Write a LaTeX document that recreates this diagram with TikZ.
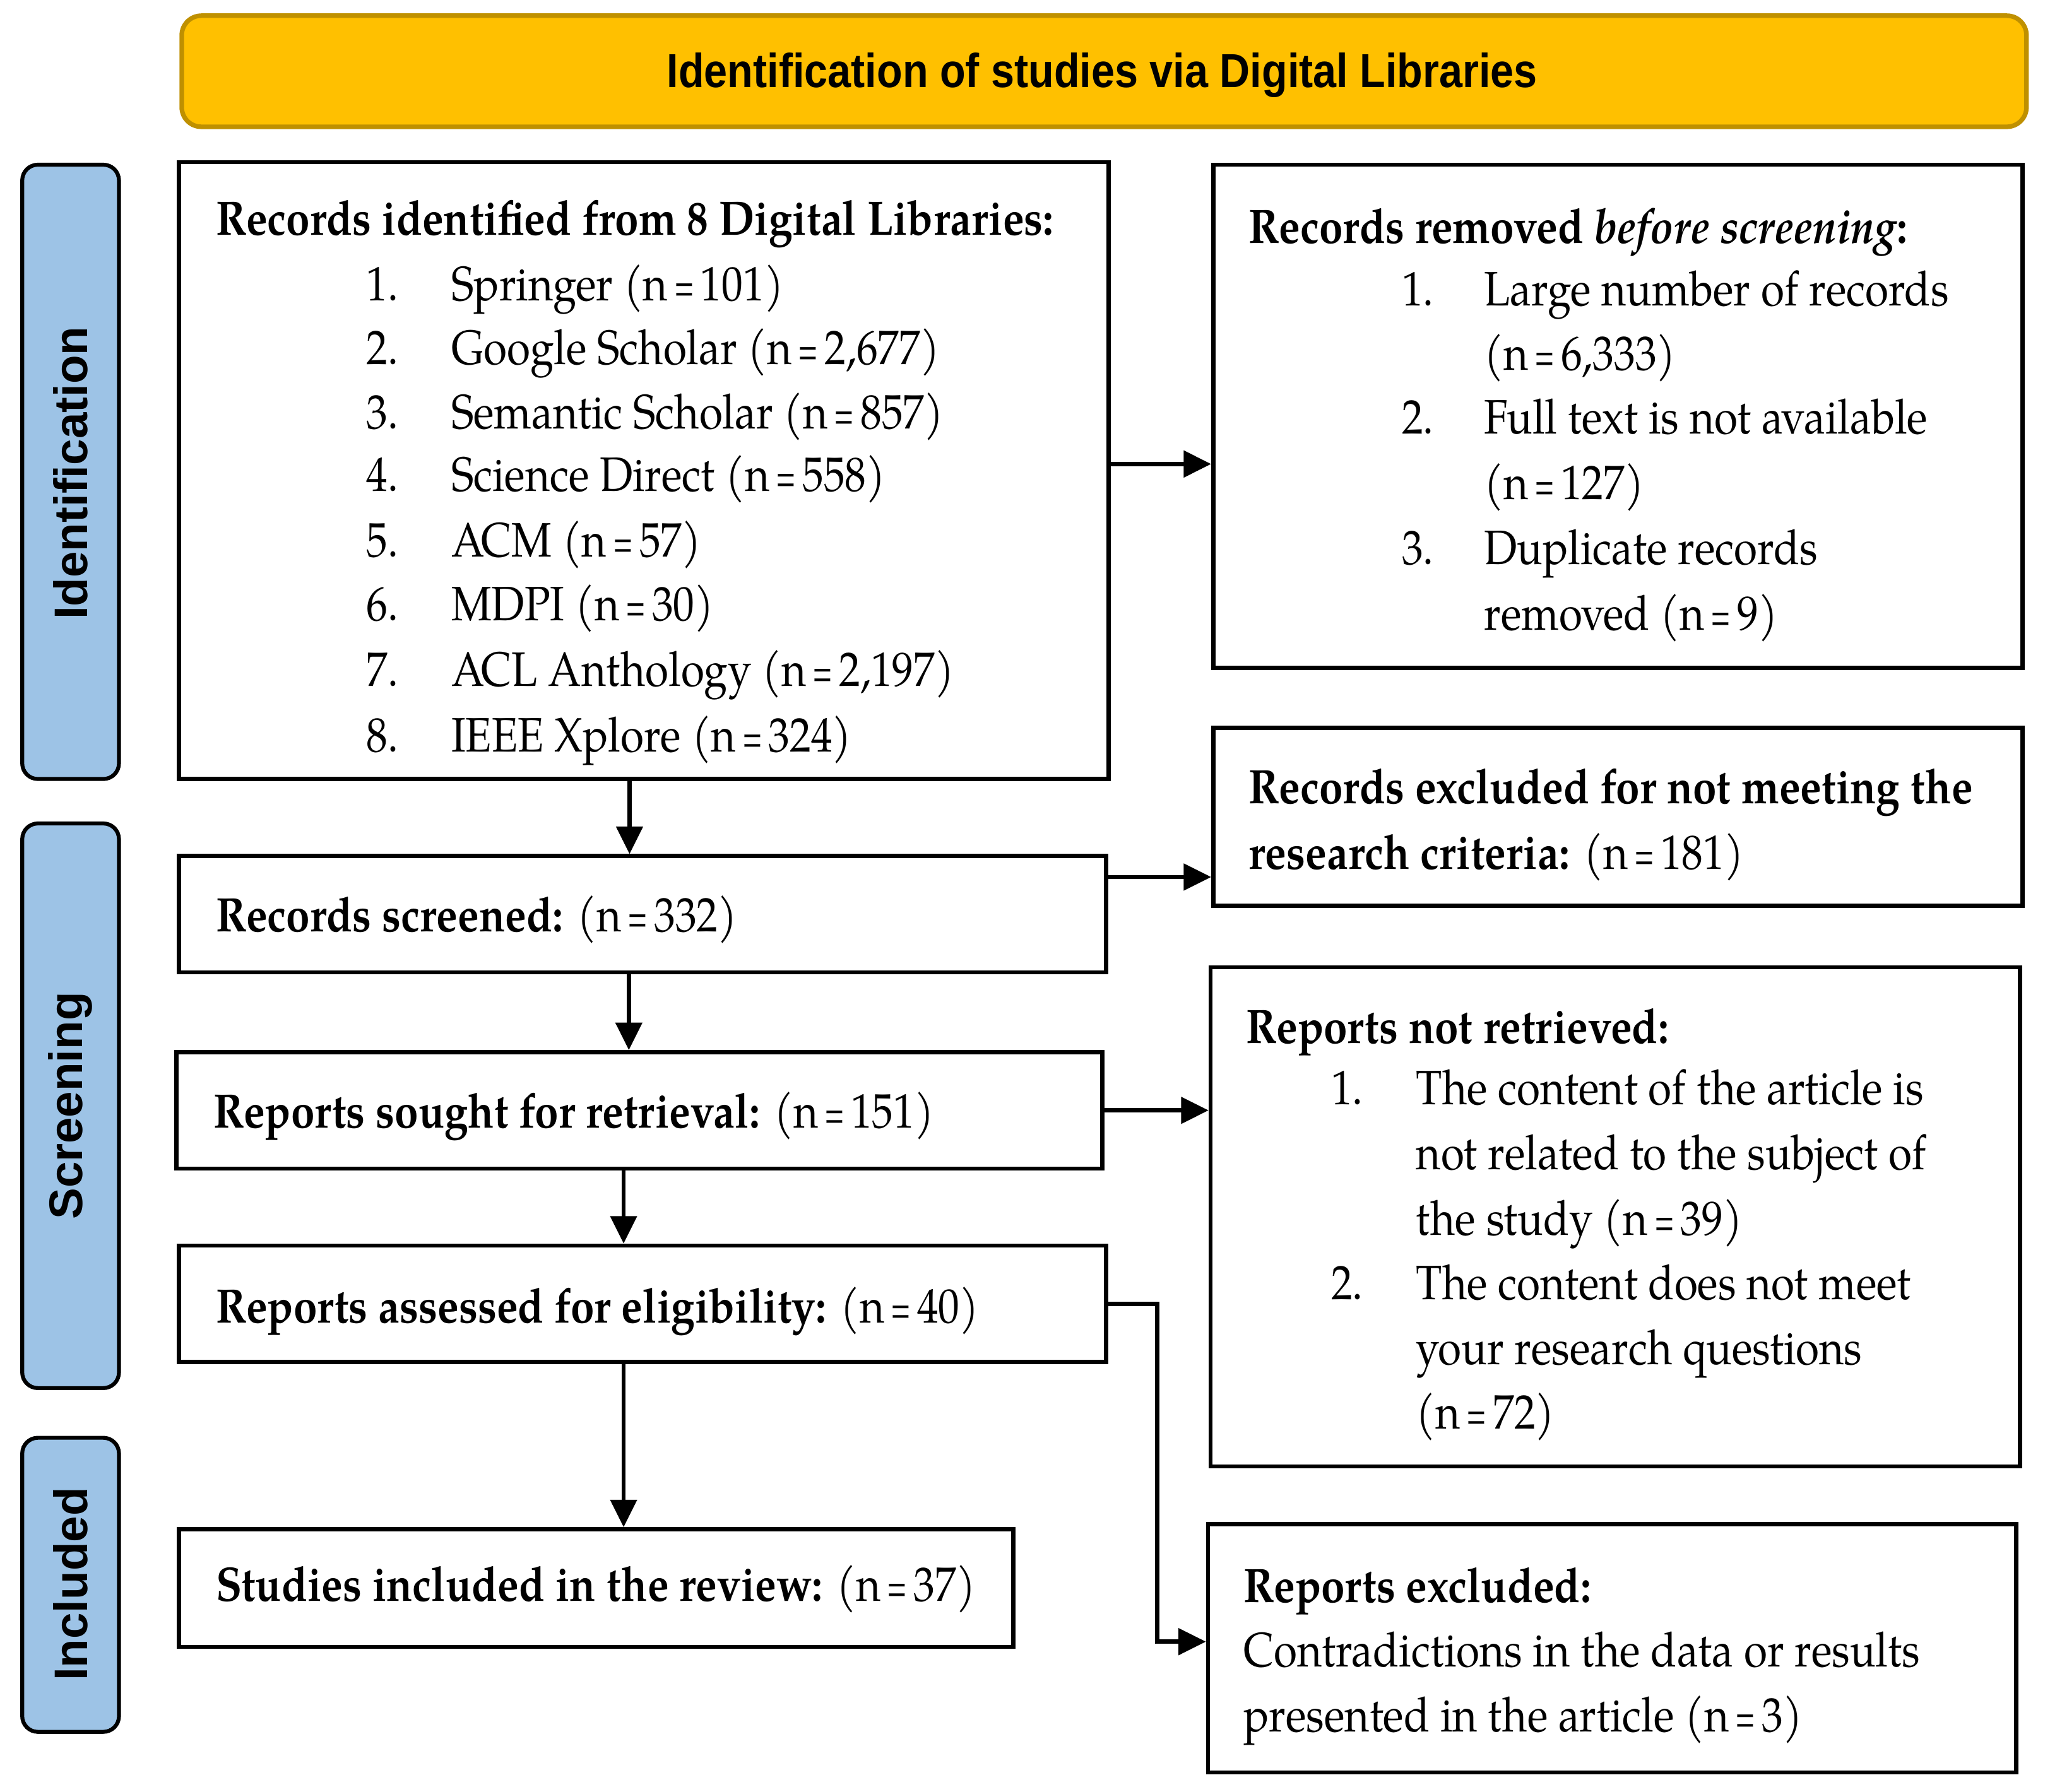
\documentclass[tikz,border=0pt]{standalone}
\usepackage{fontspec}
\usepackage{graphicx}
\setmainfont{texgyrepagella}[Extension=.otf, UprightFont=*-regular, BoldFont=*-bold, ItalicFont=*-italic, BoldItalicFont=*-bolditalic, FakeStretch=0.88]
\newfontfamily\sansfont{Liberation Sans}
\newfontfamily\bannerfont{Liberation Sans}[FakeStretch=0.88]
\usetikzlibrary{arrows.meta,calc}
\definecolor{bannerfill}{HTML}{FFC000}
\definecolor{bannerdraw}{HTML}{BF9000}
\definecolor{lblfill}{HTML}{9DC3E6}
\newcommand\nval[1]{(n\hspace{0.13em}\scalebox{0.62}[0.9]{=}\hspace{0.13em}#1)}
\tikzset{
  box/.style={draw=black, line width=3.2pt, fill=white, inner sep=0pt},
  lbl/.style={draw=black, line width=3pt, fill=lblfill, rounded corners=12pt},
  txt/.style={anchor=base west, inner sep=0pt, font=\fontsize{37}{44}\selectfont},
  lbltxt/.style={inner sep=0pt, rotate=90, font=\sansfont\bfseries\fontsize{36}{40}\selectfont},
  arr/.style={line width=3.2pt, -{Triangle[length=21pt,width=20pt]}},
}
\begin{document}
\begin{tikzpicture}[x=1pt,y=-1pt]
\useasboundingbox (0,0) rectangle (1568,1371);
% banner
\draw[fill=bannerfill, draw=bannerdraw, line width=3.5pt, rounded corners=15pt] (139,12) rectangle (1550,97);
\node[inner sep=0pt, anchor=base, font=\bannerfont\bfseries\fontsize{36.5}{40}\selectfont] (banner) at (843,67) {Identification of studies via Digital Libraries};
% side labels
\draw[lbl] (17,126) rectangle (91,596);
\node[lbltxt] (lid) at (54,362) {Identification};
\draw[lbl] (17,630) rectangle (91,1062);
\node[lbltxt] (lsc) at (54,846) {Screening};
\draw[lbl] (17,1100) rectangle (91,1325);
\node[lbltxt] (lin) at (54,1212) {Included};
% boxes
\node[box, minimum width=711pt, minimum height=472pt] (b1) at (492.5,360) {};
\node[box, minimum width=619pt, minimum height=385pt] (b2) at (1237.5,318.5) {};
\node[box, minimum width=709pt, minimum height=89pt] (b3) at (491.5,699.5) {};
\node[box, minimum width=619pt, minimum height=136pt] (b4) at (1237.5,625) {};
\node[box, minimum width=708pt, minimum height=89pt] (b5) at (489,849.5) {};
\node[box, minimum width=619pt, minimum height=382pt] (b6) at (1235.5,931) {};
\node[box, minimum width=709pt, minimum height=89pt] (b7) at (491.5,997.5) {};
\node[box, minimum width=638pt, minimum height=90pt] (b8) at (456,1215) {};
\node[box, minimum width=618pt, minimum height=190pt] (b9) at (1233,1261) {};
% box 1 text
\node[txt] (t1h) at (165,180) {\textbf{Records identified from 8 Digital Libraries:}};
\node[txt] (t1n1) at (280,230) {1.}; \node[txt] (t1i1) at (345,230) {Springer \nval{101}};
\node[txt] (t1n2) at (280,279) {2.}; \node[txt] (t1i2) at (345,279) {Google Scholar \nval{2,677}};
\node[txt] (t1n3) at (280,328) {3.}; \node[txt] (t1i3) at (345,328) {Semantic Scholar \nval{857}};
\node[txt] (t1n4) at (280,376) {4.}; \node[txt] (t1i4) at (345,376) {Science Direct \nval{558}};
\node[txt] (t1n5) at (280,426) {5.}; \node[txt] (t1i5) at (345,426) {ACM \nval{57}};
\node[txt] (t1n6) at (280,475) {6.}; \node[txt] (t1i6) at (345,475) {MDPI \nval{30}};
\node[txt] (t1n7) at (280,525) {7.}; \node[txt] (t1i7) at (345,525) {ACL Anthology \nval{2,197}};
\node[txt] (t1n8) at (280,575) {8.}; \node[txt] (t1i8) at (345,575) {IEEE Xplore \nval{324}};
% box 2 text
\node[txt] (t2h) at (955,186) {\textbf{Records removed \textit{before screening}:}};
\node[txt] (t2n1) at (1072,234) {1.}; \node[txt] (t2a) at (1135,234) {Large number of records};
\node[txt] (t2b) at (1135,283) {\nval{6,333}};
\node[txt] (t2n2) at (1072,332) {2.}; \node[txt] (t2c) at (1135,332) {Full text is not available};
\node[txt] (t2d) at (1135,382) {\nval{127}};
\node[txt] (t2n3) at (1072,432) {3.}; \node[txt] (t2e) at (1135,432) {Duplicate records};
\node[txt] (t2f) at (1135,482) {removed \nval{9}};
% box 3
\node[txt] (t3) at (165,713) {\textbf{Records screened:} \nval{332}};
% box 4
\node[txt] (t4a) at (955,615) {\textbf{Records excluded for not meeting the}};
\node[txt] (t4b) at (955,665) {\textbf{research criteria:} \nval{181}};
% box 5
\node[txt] (t5) at (163,863) {\textbf{Reports sought for retrieval:} \nval{151}};
% box 6
\node[txt] (t6h) at (953,798) {\textbf{Reports not retrieved:}};
\node[txt] (t6n1) at (1018,845) {1.}; \node[txt] (t6a) at (1083,845) {The content of the article is};
\node[txt] (t6b) at (1083,895) {not related to the subject of};
\node[txt] (t6c) at (1083,945) {the study \nval{39}};
\node[txt] (t6n2) at (1018,994) {2.}; \node[txt] (t6d) at (1083,994) {The content does not meet};
\node[txt] (t6e) at (1083,1044) {your research questions};
\node[txt] (t6f) at (1083,1093) {\nval{72}};
% box 7
\node[txt] (t7) at (165,1012) {\textbf{Reports assessed for eligibility:} \nval{40}};
% box 8
\node[txt] (t8) at (165,1225) {\textbf{Studies included in the review:} \nval{37}};
% box 9
\node[txt] (t9h) at (951,1226) {\textbf{Reports excluded:}};
\node[txt] (t9a) at (951,1275) {Contradictions in the data or results};
\node[txt] (t9b) at (951,1325) {presented in the article \nval{3}};
% connectors
\coordinate (elbow) at (885,1000);
\draw[arr] ([yshift=5pt]b1.east) -- ([yshift=5pt]b1.east -| b2.west);
\draw[arr] ([xshift=-11pt]b1.south) -- ([xshift=-11pt]b1.south |- b3.north);
\draw[arr] ([yshift=28.5pt]b3.east) -- ([yshift=28.5pt]b3.east -| b4.west);
\draw[arr] ([xshift=-10.5pt]b3.south) -- ([xshift=-10.5pt]b3.south |- b5.north);
\draw[arr] (b5.east) -- (b5.east -| b6.west);
\draw[arr] ([xshift=-12pt]b5.south) -- ([xshift=-12pt]b5.south |- b7.north);
\draw[arr] ([xshift=-14.5pt]b7.south) -- ([xshift=-14.5pt]b7.south |- b8.north);
\draw[arr] (b7.east) -- (b7.east -| elbow) |- ([yshift=5pt]b9.west);
\end{tikzpicture}
\end{document}
